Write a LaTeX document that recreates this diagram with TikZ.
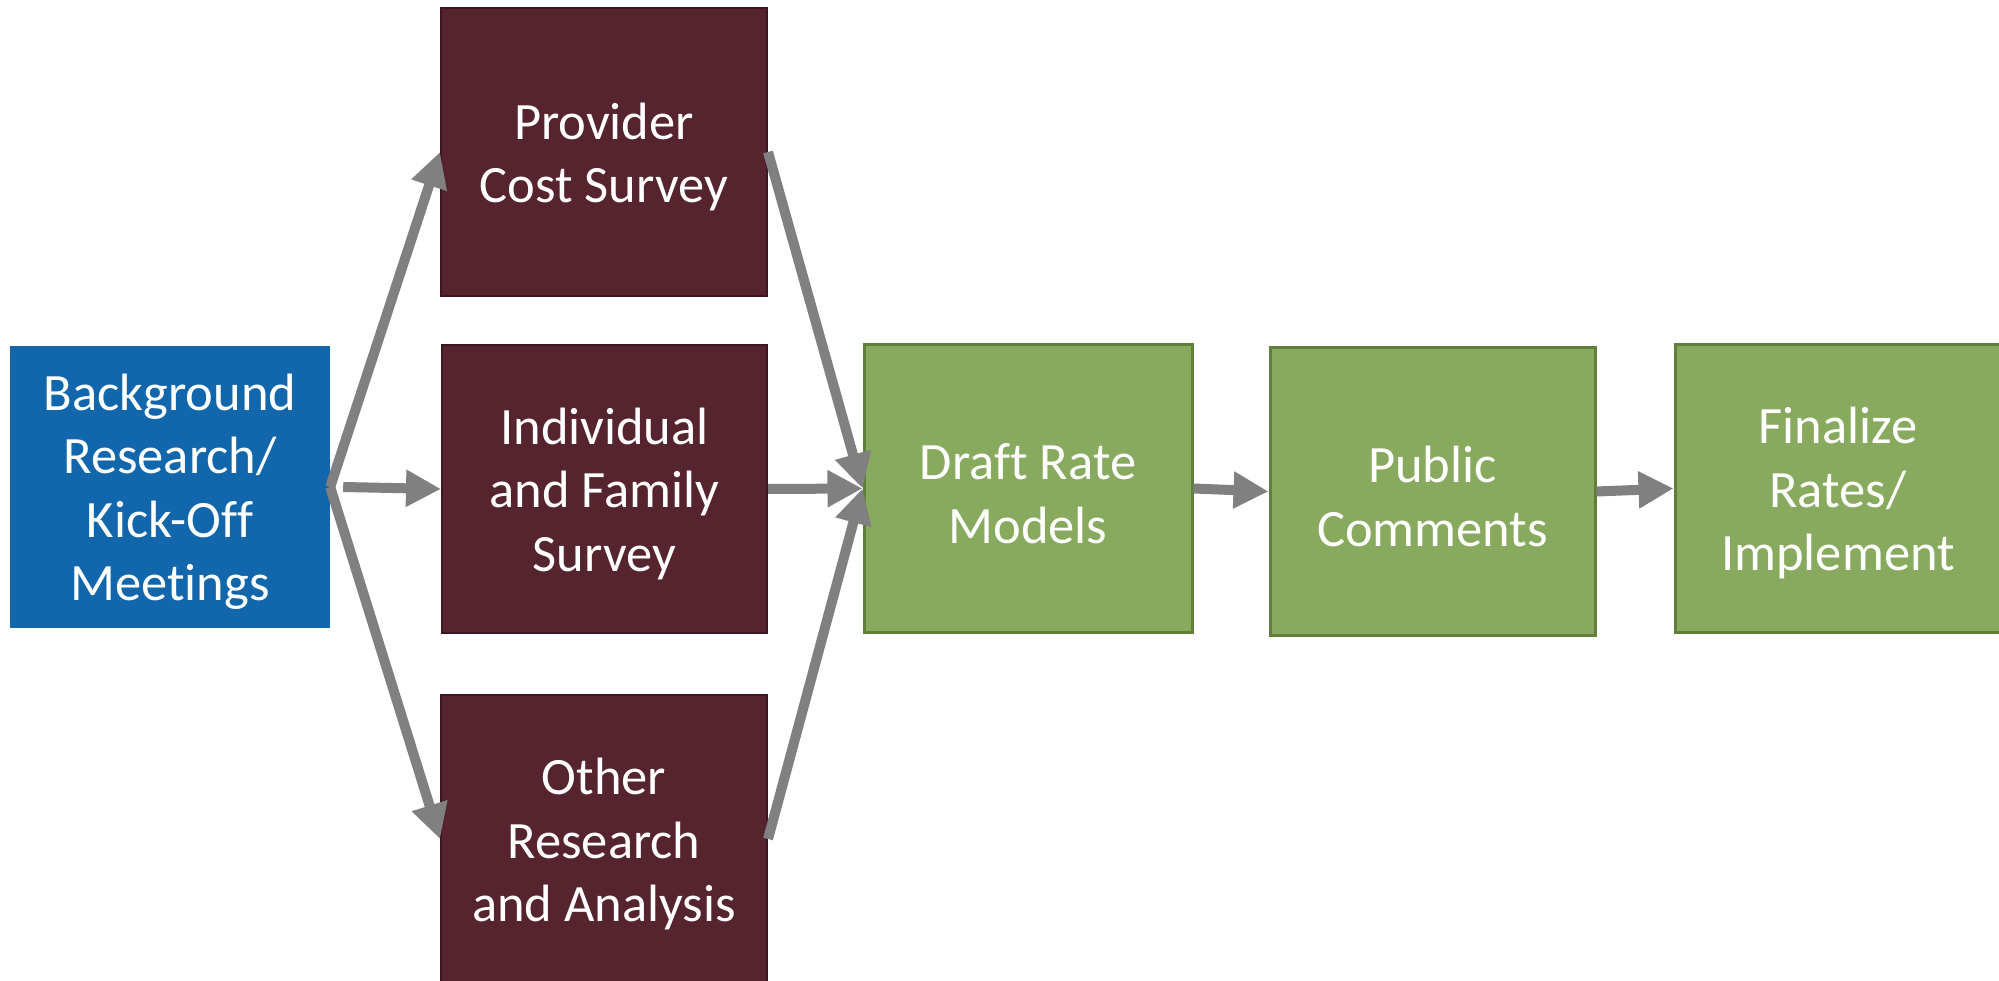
\documentclass[tikz,border=0pt]{standalone}
\usepackage{fontspec}
\setmainfont{Carlito}[Ligatures={NoCommon,NoContextual}]
\usetikzlibrary{arrows.meta}
\definecolor{bgblue}{HTML}{1266AB}
\definecolor{maroon}{HTML}{55242F}
\definecolor{maroonline}{HTML}{3D1620}
\definecolor{leaf}{HTML}{87AA5E}
\definecolor{leafline}{HTML}{5F7F3B}
\definecolor{arrowgrey}{HTML}{808080}
\newcommand{\nl}{\kern0pt }
\tikzset{
  box/.style={rectangle, inner sep=0pt},
  boxtext/.style={align=center, text=white, inner sep=0pt, yshift=-5pt,
    font=\fontsize{52.5}{63.5}\selectfont},
  bluebox/.style={box, fill=bgblue},
  maroonbox/.style={box, fill=maroon, draw=maroonline, line width=2pt},
  greenbox/.style={box, fill=leaf, draw=leafline, line width=3pt},
  flow/.style={draw=arrowgrey, line width=10pt,
    -{Triangle[length=35pt,width=35pt]}},
}
\begin{document}
\begin{tikzpicture}[x=1pt,y=-1pt]
\useasboundingbox (0,0) rectangle (1999,981);
\node[bluebox, minimum width=320pt, minimum height=282pt,
  label={[boxtext]center:Background\\Research/\\Kick-O\nl f\nl f\\Meet\nl ings}] (bg) at (170,487) {};
\node[maroonbox, minimum width=326pt, minimum height=288pt,
  label={[boxtext]center:Provider\\Cost Survey}] (prov) at (604,152) {};
\node[maroonbox, minimum width=325pt, minimum height=288pt,
  label={[boxtext]center:Individual\\and Family\\Survey}] (ind) at (604.5,489) {};
\node[maroonbox, minimum width=326pt, minimum height=288pt,
  label={[boxtext]center:Other\\Research\\and Analysis}] (oth) at (604,839) {};
\node[greenbox, minimum width=328pt, minimum height=287pt,
  label={[boxtext]center:Dra\nl f\nl t Rate\\Models}] (draft) at (1028,488.5) {};
\node[greenbox, minimum width=325pt, minimum height=287pt,
  label={[boxtext]center:Public\\Comments}] (pub) at (1432.5,491.5) {};
\node[greenbox, minimum width=326pt, minimum height=287pt,
  label={[boxtext]center:Finalize\\Rates/\\Implement}] (fin) at (1838,488.5) {};
\draw[flow] (bg.east) -- (prov.west);
\draw[flow] ([xshift=13pt]bg.east) -- (ind.west);
\draw[flow] (bg.east) -- (oth.west);
\draw[flow] (prov.east) -- (draft.west);
\draw[flow] (ind.east) -- (draft.west);
\draw[flow] (oth.east) -- (draft.west);
\draw[flow] (draft.east) -- (pub.west);
\draw[flow] (pub.east) -- (fin.west);
\end{tikzpicture}
\end{document}
